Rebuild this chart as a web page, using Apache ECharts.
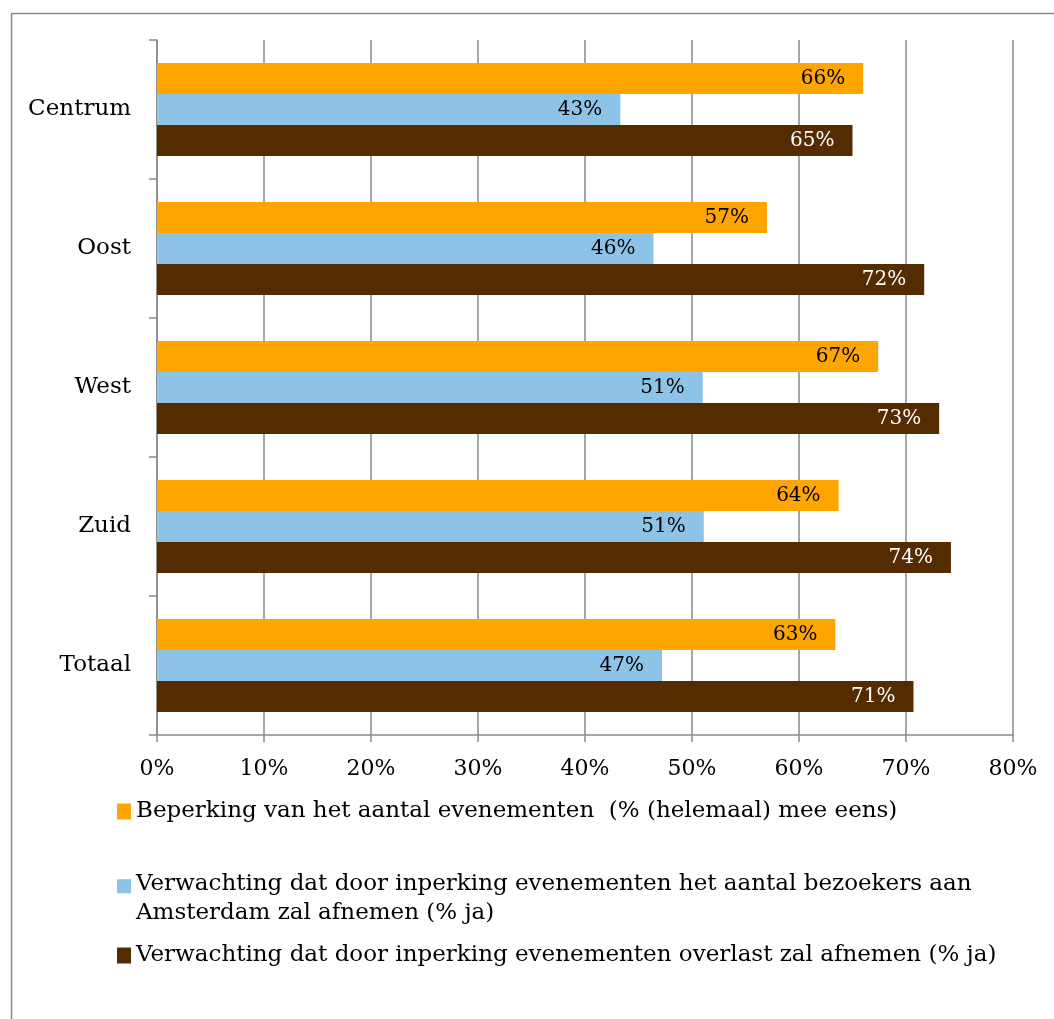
<!DOCTYPE html>
<html>
<head>
<meta charset="utf-8">
<script src="https://cdn.jsdelivr.net/npm/echarts@6/dist/echarts.min.js"></script>
<style>
  html, body { margin: 0; padding: 0; background: #fff; }
  #chart { width: 1054px; height: 1019px; }
</style>
</head>
<body>
<div id="chart"></div>
<script>
// categorieen en waarden (%)
const categories = ['Centrum', 'Oost', 'West', 'Zuid', 'Totaal'];
const beperking = [66.0, 57.0, 67.4, 63.7, 63.4];
const bezoekers = [43.3, 46.4, 51.0, 51.1, 47.2];
const overlast = [65.0, 71.7, 73.1, 74.2, 70.7];

const names = [
  'Beperking van het aantal evenementen  (% (helemaal) mee eens)',
  'Verwachting dat door inperking evenementen het aantal bezoekers aan Amsterdam zal afnemen (% ja)',
  'Verwachting dat door inperking evenementen overlast zal afnemen (% ja)'
];
const colors = ['#ffa500', '#8ec3e8', '#552b00'];
const labelColors = ['#000', '#000', '#fff'];
const font = '"DejaVu Serif", "Liberation Serif", serif';

const myChart = echarts.init(document.getElementById('chart'));

const series = [beperking, bezoekers, overlast].map((d, i) => ({
  name: names[i],
  type: 'bar',
  data: d,
  barGap: '0%',
  barCategoryGap: '33%',
  itemStyle: { color: colors[i] },
  label: {
    show: true,
    position: 'insideRight',
    distance: 18,
    color: labelColors[i],
    fontFamily: font,
    fontSize: 20,
    formatter: p => Math.round(p.value) + '%'
  }
}));

const legendTops = [797, 870, 941];
const legends = names.map((n, i) => ({
  data: [n],
  left: 117,
  top: legendTops[i],
  padding: 0,
  orient: 'vertical',
  selectedMode: false,
  itemWidth: 14,
  itemHeight: i === 1 ? 45 : 16,
  icon: i === 1 ? 'path://M0,0H16V16H0Z M0,45L0.01,45' : 'rect',
  formatter: name => name.replace(' Amsterdam', '\nAmsterdam'),
  textStyle: {
    fontFamily: font,
    fontSize: 23,
    lineHeight: 29,
    color: '#000'
  }
}));

myChart.setOption({
  animation: false,
  textStyle: { fontFamily: font },
  grid: {
    left: 157,
    right: 41,
    top: 40,
    bottom: 284,
    outerBoundsMode: 'none'
  },
  legend: legends,
  graphic: [{
    type: 'rect',
    left: 9,
    top: 11,
    shape: { width: 1300, height: 1300 },
    style: { fill: 'none', stroke: '#8a8a8a', lineWidth: 1.5 },
    silent: true
  }],
  xAxis: {
    type: 'value',
    min: 0,
    max: 80,
    interval: 10,
    axisLine: { show: true, lineStyle: { color: '#8a8a8a', width: 1.5 } },
    axisTick: { show: true, length: 7, lineStyle: { color: '#8a8a8a', width: 1.5 } },
    axisLabel: {
      margin: 23,
      color: '#000',
      fontFamily: font,
      fontSize: 22,
      formatter: v => v + '%'
    },
    splitLine: { show: true, lineStyle: { color: '#8a8a8a', width: 1.5 } }
  },
  yAxis: {
    type: 'category',
    data: categories,
    inverse: true,
    axisLine: { show: true, lineStyle: { color: '#8a8a8a', width: 1.5 } },
    axisTick: { show: true, length: 8, lineStyle: { color: '#8a8a8a', width: 1.5 } },
    axisLabel: {
      margin: 26,
      color: '#000',
      fontFamily: font,
      fontSize: 23
    }
  },
  series: series
});
</script>
</body>
</html>
